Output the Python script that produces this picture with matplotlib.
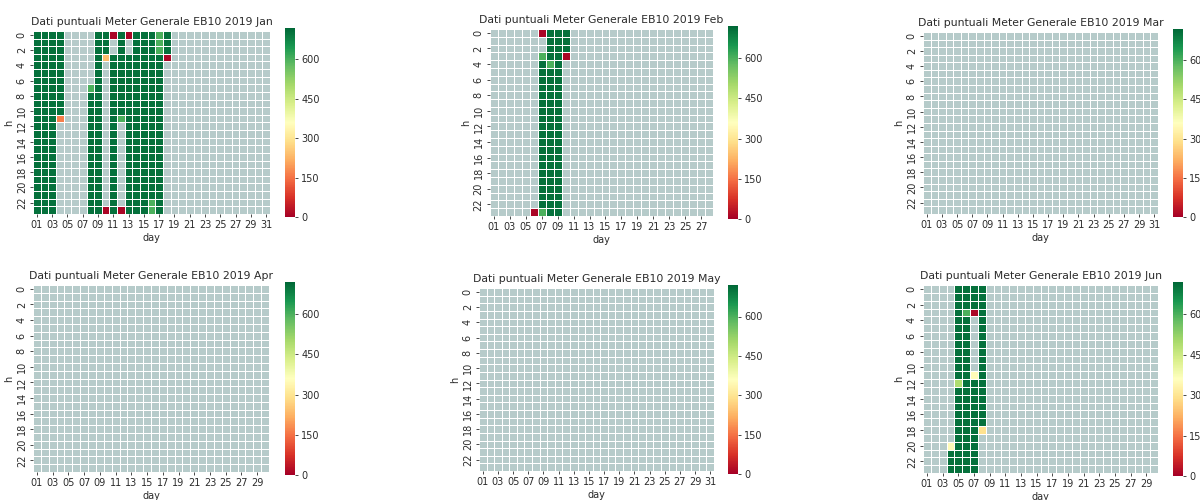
import numpy as np
import matplotlib
matplotlib.use("Agg")
import matplotlib.pyplot as plt

# hourly readings, one string per hour (0..23), one char per day
# '.' = no reading, other chars map to the values below
levels = {"G": 705, "g": 600, "l": 490, "y": 350, "a": 295,
          "o": 235, "O": 165, "r": 10}

jan_rows = [
    "GGGG....GGrGrGGGgG.............",
    "GGGG....GG.G.GGGgG.............",
    "GGGG....GG.G.GGGgG.............",
    "GGGG....GoGGGGGGGr.............",
    "GGGG....G.GGGGGGG..............",
    "GGGG....G.GGGGGGG..............",
    "GGGG....G.GGGGGGG..............",
    "GGGG...gG.GGGGGGG..............",
    "GGGG...GG.GGGGGGG..............",
    "GGGG...GG.GGGGGGG..............",
    "GGGG...GG.GGGGGGG..............",
    "GGGO...GG.GgGGGGG..............",
    "GGG....GG.G.GGGGG..............",
    "GGG....GG.G.GGGGG..............",
    "GGG....GG.G.GGGGG..............",
    "GGG....GG.G.GGGGG..............",
    "GGG....GG.G.GGGGG..............",
    "GGG....GG.G.GGGGG..............",
    "GGG....GG.G.GGGGG..............",
    "GGG....GG.G.GGGGG..............",
    "GGG....GG.G.GGGGG..............",
    "GGG....GG.G.GGGGG..............",
    "GGG....GG.G.GGGgG..............",
    "GGG....GGrGrGGGgG..............",
]

feb_rows = [
    "......rGGG..................",
    ".......GGG..................",
    ".......GGG..................",
    "......gGGr..................",
    "......GgG...................",
    "......GGG...................",
    "......GGG...................",
    "......GGG...................",
    "......GGG...................",
    "......GGG...................",
    "......GGG...................",
    "......GGG...................",
    "......GGG...................",
    "......GGG...................",
    "......GGG...................",
    "......GGG...................",
    "......GGG...................",
    "......GGG...................",
    "......GGG...................",
    "......GGG...................",
    "......GGG...................",
    "......GGG...................",
    "......GGG...................",
    ".....rgGG...................",
]

jun_rows = [
    "....GGGG......................",
    "....GGGG......................",
    "....GGGG......................",
    "....GgrG......................",
    "....GG.G......................",
    "....GG.G......................",
    "....GG.G......................",
    "....GG.G......................",
    "....GG.G......................",
    "....GG.G......................",
    "....GG.G......................",
    "....GGyG......................",
    "....lGGG......................",
    "....GGGG......................",
    "....GGGG......................",
    "....GGGG......................",
    "....GGGG......................",
    "....GGGG......................",
    "....GGGa......................",
    "....GGG.......................",
    "...yGGG.......................",
    "...GGGG.......................",
    "...GGGG.......................",
    "...GGGG.......................",
]

# March, April, May: no readings at all
months = ["Jan", "Feb", "Mar", "Apr", "May", "Jun"]
month_days = [31, 28, 31, 30, 31, 30]
month_rows = [jan_rows, feb_rows, [], [], [], jun_rows]
hours = 24

# axes boxes in pixels (left, top, right, bottom) and colorbar x (left, right)
W, H = 1200, 500
boxes = [(33, 31, 270, 214), (490, 29, 713, 216), (923, 32, 1158, 214),
         (33, 285, 269, 472), (479, 288, 714, 471), (923, 285, 1158, 473)]
cbars = [(285, 295), (728, 738), (1173, 1183)]

cmap = plt.get_cmap("RdYlGn").with_extremes(bad="#b6cbca")
txt = "#2b2b2b"

fig = plt.figure(figsize=(12, 5), dpi=100)

for i, (name, nd, rows) in enumerate(zip(months, month_days, month_rows)):
    grid = np.full((hours, nd), np.nan)
    for h, line in enumerate(rows):
        for d, c in enumerate(line):
            if c in levels:
                grid[h, d] = levels[c]
    data = np.ma.masked_invalid(grid)

    l, t, r, b = boxes[i]
    ax = fig.add_axes([l / W, 1 - b / H, (r - l) / W, (b - t) / H])
    mesh = ax.pcolormesh(data, cmap=cmap, vmin=0, vmax=720,
                         edgecolors="white", linewidth=0.7)
    ax.set_xlim(0, nd)
    ax.set_ylim(hours, 0)
    for s in ax.spines.values():
        s.set_visible(False)

    xt = np.arange(0, nd, 2)
    ax.set_xticks(xt + 0.5)
    ax.set_xticklabels(["%02d" % (d + 1) for d in xt], fontsize=7, color=txt)
    yt = np.arange(0, hours, 2)
    ax.set_yticks(yt + 0.5)
    ax.set_yticklabels([str(h) for h in yt], fontsize=7, color=txt,
                       rotation=90, va="center")
    ax.tick_params(length=2.5, width=0.6, color=txt, pad=2)
    ax.set_xlabel("day", fontsize=7, color=txt, labelpad=2)
    ax.set_ylabel("h", fontsize=7, color=txt, labelpad=2)
    ax.set_title("Dati puntuali Meter Generale EB10 2019 " + name,
                 fontsize=7.8, color=txt, pad=4)

    cl, cr = cbars[i % 3]
    cax = fig.add_axes([cl / W, 1 - (b + 3) / H, (cr - cl) / W, (b - t + 6) / H])
    cb = fig.colorbar(mesh, cax=cax, ticks=[0, 150, 300, 450, 600])
    cb.outline.set_visible(False)
    cb.ax.tick_params(labelsize=7, length=2.5, width=0.6, colors=txt, pad=2)

fig.savefig("out.png", dpi=100)
